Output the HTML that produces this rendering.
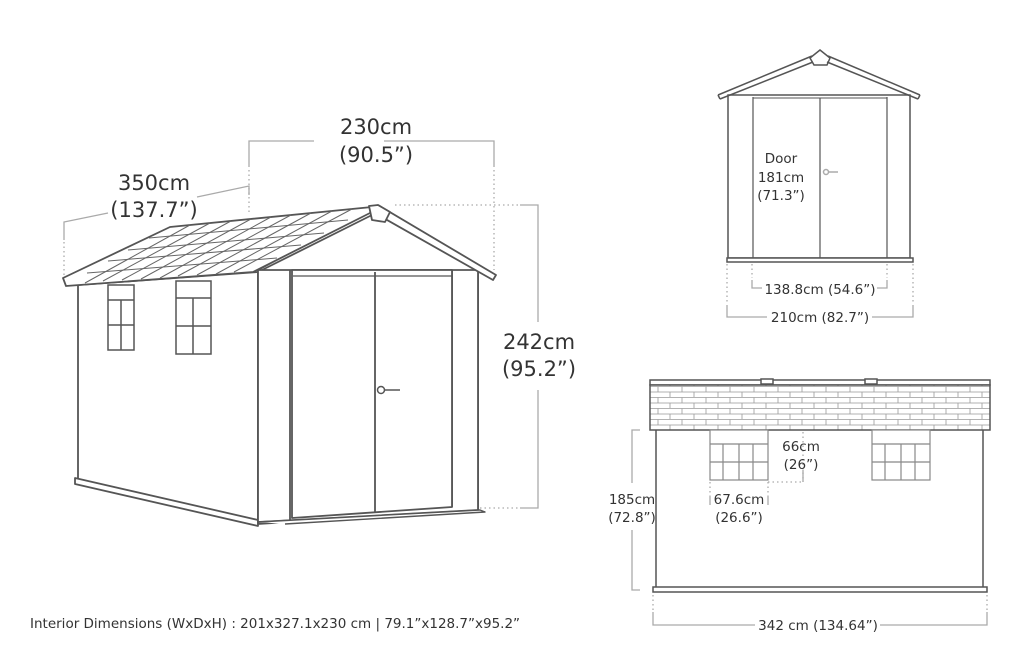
<!DOCTYPE html>
<html><head><meta charset="utf-8"><style>
html,body{margin:0;padding:0;background:#fff;}
svg{display:block}
text{font-family:"DejaVu Sans","Liberation Sans",sans-serif;fill:#333}
</style></head><body>
<svg width="1024" height="646" viewBox="0 0 1024 646" xmlns="http://www.w3.org/2000/svg">
<defs>
<pattern id="brick" x="650" y="386" width="24" height="11" patternUnits="userSpaceOnUse">
<rect width="24" height="11" fill="#fff"/>
<path d="M0 0.5H24M0 6H24M8 0.5V6M20 6V11" stroke="#999" stroke-width="0.8" fill="none"/>
</pattern>
</defs>
<g fill="none" stroke="#aaa" stroke-width="1.3">
<path d="M249 167V141H314M384 141H494V167"/>
<path d="M249 170V215M494 170V270" stroke-dasharray="1.5 3"/>
<path d="M64 240V222L108 213M197 197L249 186V195"/>
<path d="M64 242V278" stroke-dasharray="1.5 3"/>
<path d="M520 205H538V322M538 390V508H520"/>
<path d="M395 205H518M480 508H518" stroke-dasharray="1.5 3"/>
<path d="M752 280V288H762M877 288H887V280"/>
<path d="M727 305V317H767M872 317H913V305"/>
<path d="M752 264V278M887 264V278M727 264V303M913 264V303" stroke-dasharray="1.5 3"/>
<path d="M780 98V258" stroke-dasharray="1.5 3"/>
<path d="M640 430H632V483M632 530V590H640"/>
<path d="M653 612V625H755M880 625H987V612"/>
<path d="M653 595V610M987 595V610M710 482V497M768 482V497M803 432V482M768 482H803" stroke-dasharray="1.5 3"/>
<path d="M710 497V505M768 497V505M803 470V482"/>
</g>
<!-- MAIN SHED -->
<g stroke="#555" stroke-width="1.8" fill="#fff" stroke-linejoin="round">
<path d="M78 285L258 272V522L78 480Z"/>
<path d="M75 478L258 520V526L75 484Z"/>
<path d="M258 272L378 212L478 270V510L258 524Z"/>
<path d="M258 270H478V510L258 522Z"/>
<path d="M290 270V521M452 270V507"/>
<path d="M292 270L452 270V507L292 518Z"/>
<path d="M293 276H452" stroke-width="1.2"/>
<path d="M375 272V513"/>
<path d="M258 522L480 510L485 512L285 524" stroke-width="1.4"/>
<path d="M378 205L496 275L493 280L380 216"/>
<path d="M378 205L258 270"/>
<path d="M170 227L372 207L370 213L253 272L66 286L63 278Z" fill="#fff"/>
<path d="M369 206L378 205L390 212L385 222L372 220Z"/>
</g>
<g stroke="#666" stroke-width="1" fill="none">
<path d="M149 238L348 220M128 250L324 233M108 261L301 245M87 273L277 258"/>
<path d="M190 225L85 283M210 223L103 281M231 221L122 280M251 219L141 279M271 217L160 278M291 215L178 276M311 213L197 275M332 211L216 274M352 209L234 272"/>
</g>
<g stroke="#555" stroke-width="1.5" fill="#fff">
<rect x="108" y="285" width="26" height="65"/>
<path d="M108 300H134M121 300V350M108 325H134"/>
<rect x="176" y="281" width="35" height="73"/>
<path d="M176 298H211M193 298V354M176 326H211"/>
<circle cx="381" cy="390" r="3.5"/>
<path d="M385 390H400"/>
</g>
<!-- FRONT VIEW -->
<g stroke="#555" stroke-width="1.5" fill="#fff">
<path d="M728 95H910V258H728Z"/>
<path d="M753 97V258M887 97V258M820 98V258" stroke-width="1.2"/>
<path d="M753 98H887" stroke-width="1"/>
<path d="M810 58L820 50L830 58L827 65H814Z"/>
<path d="M718 95L812 56M720 99L813 62M920 95L828 56M918 99L827 62M718 95L720 99M920 95L918 99"/>
<path d="M727 258H913V262H727Z"/>
<circle cx="826" cy="172" r="2.5" stroke="#aaa"/>
<path d="M829 172H838" stroke="#aaa"/>
</g>
<!-- BACK VIEW -->
<g stroke="#555" stroke-width="1.5">
<rect x="650" y="380" width="340" height="5" fill="#fff"/>
<rect x="761" y="379" width="12" height="5" fill="#fff"/>
<rect x="865" y="379" width="12" height="5" fill="#fff"/>
<rect x="650" y="385" width="340" height="45" fill="url(#brick)"/>
<path d="M656 430V587M983 430V587" fill="none"/>
<path d="M653 587H987V592H653Z" fill="#fff"/>
</g>
<g stroke="#888" stroke-width="1.2" fill="#fff">
<rect x="710" y="430" width="58" height="50"/>
<path d="M710 444H768M710 462H768M723 444V480M739 444V480M753 444V480" fill="none"/>
<rect x="872" y="430" width="58" height="50"/>
<path d="M872 444H930M872 462H930M885 444V480M901 444V480M915 444V480" fill="none"/>
</g>
<g font-size="21" text-anchor="middle">
<text x="376" y="134">230cm</text>
<text x="376" y="162">(90.5”)</text>
<text x="154" y="190">350cm</text>
<text x="154" y="217">(137.7”)</text>
<text x="539" y="349">242cm</text>
<text x="539" y="376">(95.2”)</text>
</g>
<g font-size="13.5" text-anchor="middle">
<text x="781" y="163">Door</text>
<text x="781" y="182">181cm</text>
<text x="781" y="200">(71.3”)</text>
<text x="820" y="294">138.8cm (54.6”)</text>
<text x="820" y="322">210cm (82.7”)</text>
<text x="801" y="451">66cm</text>
<text x="801" y="469">(26”)</text>
<text x="739" y="504">67.6cm</text>
<text x="739" y="522">(26.6”)</text>
<text x="632" y="504">185cm</text>
<text x="632" y="522">(72.8”)</text>
<text x="818" y="630">342 cm (134.64”)</text>
</g>
<text x="30" y="628" font-size="13.5">Interior Dimensions (WxDxH) : 201x327.1x230 cm | 79.1”x128.7”x95.2”</text>
</svg>
</body></html>
